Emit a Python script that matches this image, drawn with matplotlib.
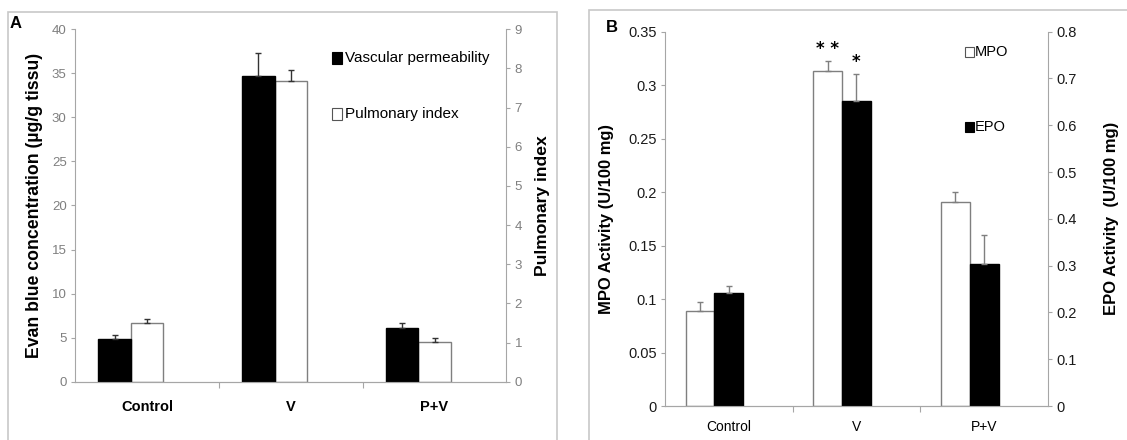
import numpy as np
import matplotlib.pyplot as plt
from matplotlib.patches import Rectangle

# data
groups = ["Control", "V", "P+V"]

# panel A
vasc_perm = [4.8, 34.7, 6.13]        # left axis, black
vasc_perm_err = [0.55, 2.6, 0.5]
pulm_index = [1.51, 7.68, 1.01]      # right axis, white
pulm_index_err = [0.10, 0.28, 0.11]

# panel B
mpo = [0.0888, 0.3136, 0.191]        # left axis, white
mpo_err = [0.008, 0.0087, 0.0087]
epo = [0.2407, 0.652, 0.303]         # right axis, black
epo_err = [0.016, 0.058, 0.062]

W, H = 1127, 440
NARROW = ["Liberation Sans Narrow", "Liberation Sans", "DejaVu Sans"]
ARIAL = ["Liberation Sans", "DejaVu Sans"]
GRAY = "#a6a6a6"


def px_axes(fig, x0, y0, x1, y1):
    return fig.add_axes([x0 / W, 1 - y1 / H, (x1 - x0) / W, (y1 - y0) / H])


def style_axes(ax, ax2, tick_color, tick_size):
    for a in (ax, ax2):
        a.spines["top"].set_visible(False)
        for s in ("left", "right", "bottom"):
            a.spines[s].set_color(GRAY)
        a.tick_params(axis="y", colors=GRAY, length=3, width=0.8, labelsize=tick_size,
                      labelcolor=tick_color, pad=3)
        for lab in a.get_yticklabels():
            lab.set_family(NARROW)
    ax.spines["right"].set_visible(False)
    ax2.spines["left"].set_visible(False)
    ax.set_xlim(-0.5, 2.5)
    ax.set_xticks([0, 1, 2])
    ax.set_xticks([0.5, 1.5], minor=True)
    ax.tick_params(axis="x", which="major", length=0)
    ax.tick_params(axis="x", which="minor", length=4, color=GRAY, width=0.8)


def bars(ax, xs, vals, errs, face, edge, ecol):
    ax.bar(xs, vals, width=0.225, color=face, edgecolor=edge, linewidth=1.0, zorder=2)
    ax.errorbar(xs, vals, yerr=[np.zeros(len(errs)), errs], fmt="none",
                ecolor=ecol, elinewidth=1.0, capsize=2, capthick=1.0, zorder=3)


def draw_figure():
    fig = plt.figure(figsize=(W / 100, H / 100), dpi=100)
    x = np.arange(len(groups))

    # frames around the two panels
    fig.patches.append(Rectangle((8 / W, 0 - 0.01), (557 - 8) / W, 1 - 11.7 / H + 0.01,
                                 transform=fig.transFigure, fill=False,
                                 edgecolor="#c8c8c8", linewidth=1.2))
    fig.patches.append(Rectangle((589 / W, 0 - 0.01), (W + 5 - 589) / W, 1 - 10 / H + 0.01,
                                 transform=fig.transFigure, fill=False,
                                 edgecolor="#c8c8c8", linewidth=1.2))

    # ---- panel A ----
    axA = px_axes(fig, 75, 29.3, 506.4, 381.7)
    axA2 = axA.twinx()
    bars(axA, x - 0.225, vasc_perm, vasc_perm_err, "black", "black", "#333333")
    bars(axA2, x, pulm_index, pulm_index_err, "white", "#7f7f7f", "#333333")
    axA.set_ylim(0, 40)
    axA.set_yticks(np.arange(0, 41, 5))
    axA2.set_ylim(0, 9)
    axA2.set_yticks(np.arange(0, 10, 1))
    style_axes(axA, axA2, "#7f7f7f", 9.5)
    axA.set_xticklabels(groups, fontsize=10.5, fontweight="bold", family=ARIAL)
    axA.tick_params(axis="x", which="major", pad=13)
    axA.set_ylabel("Evan blue concentration (\u00b5g/g tissu)", fontsize=12.7,
                   fontweight="bold", family=ARIAL, labelpad=6)
    axA2.set_ylabel("Pulmonary index", fontsize=12.6, fontweight="bold",
                    family=ARIAL, labelpad=9)
    axA.set_zorder(axA2.get_zorder() + 1)
    axA.patch.set_visible(False)

    # legend A
    fig.patches.append(Rectangle((332 / W, 1 - 64 / H), 10 / W, 12 / H,
                                 transform=fig.transFigure, facecolor="black",
                                 edgecolor="black", linewidth=0.8))
    fig.text(345 / W, 1 - 58 / H, "Vascular permeability", fontsize=11,
             family=NARROW, va="center", ha="left")
    fig.patches.append(Rectangle((332 / W, 1 - 120 / H), 10 / W, 12 / H,
                                 transform=fig.transFigure, facecolor="white",
                                 edgecolor="#555555", linewidth=0.8))
    fig.text(345 / W, 1 - 114 / H, "Pulmonary index", fontsize=11,
             family=NARROW, va="center", ha="left")
    fig.text(10 / W, 1 - 23 / H, "A", fontsize=12, fontweight="bold",
             family=ARIAL, va="center", ha="left")

    # ---- panel B ----
    axB = px_axes(fig, 664.9, 31.7, 1048, 406)
    axB2 = axB.twinx()
    bars(axB, x - 0.225, mpo, mpo_err, "white", "#7f7f7f", "#7f7f7f")
    bars(axB2, x, epo, epo_err, "black", "black", "#7f7f7f")
    axB.set_ylim(0, 0.35)
    axB.set_yticks(np.arange(0, 0.351, 0.05))
    axB.set_yticklabels(["0", "0.05", "0.1", "0.15", "0.2", "0.25", "0.3", "0.35"])
    axB2.set_ylim(0, 0.8)
    axB2.set_yticks(np.arange(0, 0.81, 0.1))
    axB2.set_yticklabels(["0", "0.1", "0.2", "0.3", "0.4", "0.5", "0.6", "0.7", "0.8"])
    style_axes(axB, axB2, "#1a1a1a", 10.5)
    axB.set_xticklabels(groups, fontsize=10, family=NARROW)
    axB.tick_params(axis="x", which="major", pad=10)
    axB.set_ylabel("MPO Activity (U/100 mg)", fontsize=11.9, fontweight="bold",
                   family=ARIAL, labelpad=10)
    axB2.set_ylabel("EPO Activity  (U/100 mg)", fontsize=12, fontweight="bold",
                    family=ARIAL, labelpad=20)

    # significance stars
    axB.text(x[1] - 0.225, mpo[1] + mpo_err[1] + 0.003, "* *", ha="center",
             va="bottom", fontsize=12, fontweight="bold")
    axB2.text(x[1], epo[1] + epo_err[1] + 0.006, "*", ha="center",
              va="bottom", fontsize=12, fontweight="bold")

    # legend B
    fig.patches.append(Rectangle((965 / W, 1 - 57 / H), 9 / W, 10 / H,
                                 transform=fig.transFigure, facecolor="white",
                                 edgecolor="#555555", linewidth=0.8))
    fig.text(975 / W, 1 - 52 / H, "MPO", fontsize=10.5, family=NARROW,
             va="center", ha="left")
    fig.patches.append(Rectangle((965 / W, 1 - 132 / H), 9 / W, 10 / H,
                                 transform=fig.transFigure, facecolor="black",
                                 edgecolor="black", linewidth=0.8))
    fig.text(975 / W, 1 - 127 / H, "EPO", fontsize=10.5, family=NARROW,
             va="center", ha="left")
    fig.text(606 / W, 1 - 27 / H, "B", fontsize=12, fontweight="bold",
             family=ARIAL, va="center", ha="left")

    fig.savefig("out.png", dpi=100)


if __name__ == "__main__":
    draw_figure()
